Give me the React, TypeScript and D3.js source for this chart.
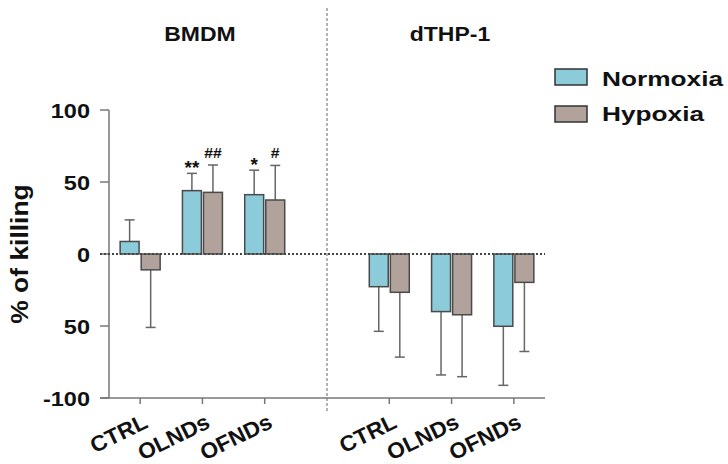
import React from 'react';
import * as d3 from 'd3';

// groups and conditions
const groups = ['BMDM', 'dTHP-1'];
const categories = ['CTRL', 'OLNDs', 'OFNDs'];
const conditions = ['Normoxia', 'Hypoxia'];

// % of killing, mean and error (SD) per group, per category, [Normoxia, Hypoxia]
const bmdmMeans = [[8.7, -11], [44, 42.8], [41.2, 37.5]];
const bmdmErrors = [[15, 40], [12, 19], [17, 24]];
const thpMeans = [[-22.7, -26.6], [-40, -42.2], [-50.2, -19.7]];
const thpErrors = [[31, 45], [44, 43], [41, 48]];

// significance marks: [group, category, condition, symbol]
const marks: [string, string, string, string][] = [
  ['BMDM', 'OLNDs', 'Normoxia', '**'],
  ['BMDM', 'OLNDs', 'Hypoxia', '##'],
  ['BMDM', 'OFNDs', 'Normoxia', '*'],
  ['BMDM', 'OFNDs', 'Hypoxia', '#'],
];

const yTicks = [100, 50, 0, -50, -100];
const yTickLabels = ['100', '50', '0', '50', '-100'];

const colors: Record<string, string> = { Normoxia: '#8bcbda', Hypoxia: '#b1a39b' };
const font = '"Liberation Sans", Arial, sans-serif';

const W = 728, H = 464;
const left = 109, right = 545, top = 110, bottom = 398;

export default function App() {
  const slots = [...categories.map(c => 'BMDM|' + c), 'gap', ...categories.map(c => 'dTHP-1|' + c)];
  const x = d3.scaleBand().domain(slots).range([left, right]);
  const inner = d3.scaleBand().domain(conditions).range([0, 40]).paddingInner(0.1);
  const off = (x.bandwidth() - 40) / 2;
  const y = d3.scaleLinear().domain([-100, 100]).range([bottom, top]);

  const rows: any[] = [];
  groups.forEach((g, gi) => {
    const means = gi === 0 ? bmdmMeans : thpMeans;
    const errs = gi === 0 ? bmdmErrors : thpErrors;
    categories.forEach((c, ci) => {
      conditions.forEach((k, ki) => {
        rows.push({ g, c, k, v: means[ci][ki], e: errs[ci][ki] });
      });
    });
  });

  const barX = (r: any) => (x(r.g + '|' + r.c) as number) + off + (inner(r.k) as number);
  const bw = inner.bandwidth();
  const divX = x('gap')! + x.bandwidth() / 2;

  const txt = (s: string, tx: number, ty: number, size: number, anchor: string, sx = 1.15, rot = 0) => (
    <text
      transform={`translate(${tx},${ty})${rot ? ` rotate(${rot})` : ''} scale(${sx},1)`}
      textAnchor={anchor}
      fontFamily={font}
      fontWeight="bold"
      fontSize={size}
      fill="#111"
    >
      {s}
    </text>
  );

  return (
    <svg width={W} height={H} style={{ position: 'absolute', left: 0, top: 0, background: '#fff' }}>
      {/* group headings */}
      {groups.map((g, i) => (
        <g key={g}>
          {txt(g, i === 0 ? 200 : 450, 41, 20, 'middle', 1.15)}
        </g>
      ))}

      {/* divider */}
      <line x1={divX} x2={divX} y1={8} y2={413} stroke="#666" strokeWidth={1} strokeDasharray="3,2" />

      {/* y axis */}
      <line x1={left} x2={left} y1={y(100)} y2={y(-100)} stroke="#777" strokeWidth={1.5} />
      {yTicks.map((t, i) => (
        <g key={i}>
          <line x1={left - 9} x2={left} y1={y(t)} y2={y(t)} stroke="#777" strokeWidth={1.5} />
          {txt(yTickLabels[i], 90, y(t) + 7.5, 21, 'end', 1.12)}
        </g>
      ))}
      {txt('% of killing', 28, (y(100) + y(-100)) / 2, 23, 'middle', 1.15, -90)}

      {/* x axis */}
      <line x1={left - 9} x2={right} y1={bottom} y2={bottom} stroke="#777" strokeWidth={1.5} />
      {slots.filter(s => s !== 'gap').map(s => {
        const cx = (x(s) as number) + x.bandwidth() / 2;
        return (
          <g key={s}>
            <line x1={cx} x2={cx} y1={bottom} y2={bottom + 6} stroke="#777" strokeWidth={1.5} />
            {txt(s.split('|')[1], cx + 9, 427, 22, 'end', 1.03, -26)}
          </g>
        );
      })}

      {/* error bars */}
      {rows.map((r, i) => {
        const cx = barX(r) + bw / 2;
        const end = r.v >= 0 ? r.v + r.e : r.v - r.e;
        return (
          <g key={'e' + i} stroke="#666" strokeWidth={1.5}>
            <line x1={cx} x2={cx} y1={y(r.v)} y2={y(end)} />
            <line x1={cx - 5} x2={cx + 5} y1={y(end)} y2={y(end)} />
          </g>
        );
      })}

      {/* bars */}
      {rows.map((r, i) => (
        <rect
          key={'b' + i}
          x={barX(r)}
          width={bw}
          y={Math.min(y(0), y(r.v))}
          height={Math.abs(y(0) - y(r.v))}
          fill={colors[r.k]}
          stroke="#4a4a4a"
          strokeWidth={1.5}
        />
      ))}

      {/* zero line */}
      <line x1={left - 9} x2={right} y1={y(0)} y2={y(0)} stroke="#444" strokeWidth={2} strokeDasharray="2,2" />

      {/* significance marks */}
      {marks.map(([g, c, k, s], i) => {
        const r = rows.find(d => d.g === g && d.c === c && d.k === k);
        const cx = barX(r) + bw / 2;
        const ty = y(r.v + r.e) - (s[0] === '*' ? -1 : 7);
        return <g key={'m' + i}>{txt(s, cx, ty, s[0] === '*' ? 18 : 15, 'middle', 1.05)}</g>;
      })}

      {/* legend */}
      {conditions.map((k, i) => (
        <g key={k}>
          <rect x={555} y={69 + i * 37} width={32} height={16} fill={colors[k]} stroke="#333" strokeWidth={1.5} />
          {txt(k, 602, 86 + i * 35, 21, 'start', 1.25)}
        </g>
      ))}
    </svg>
  );
}
